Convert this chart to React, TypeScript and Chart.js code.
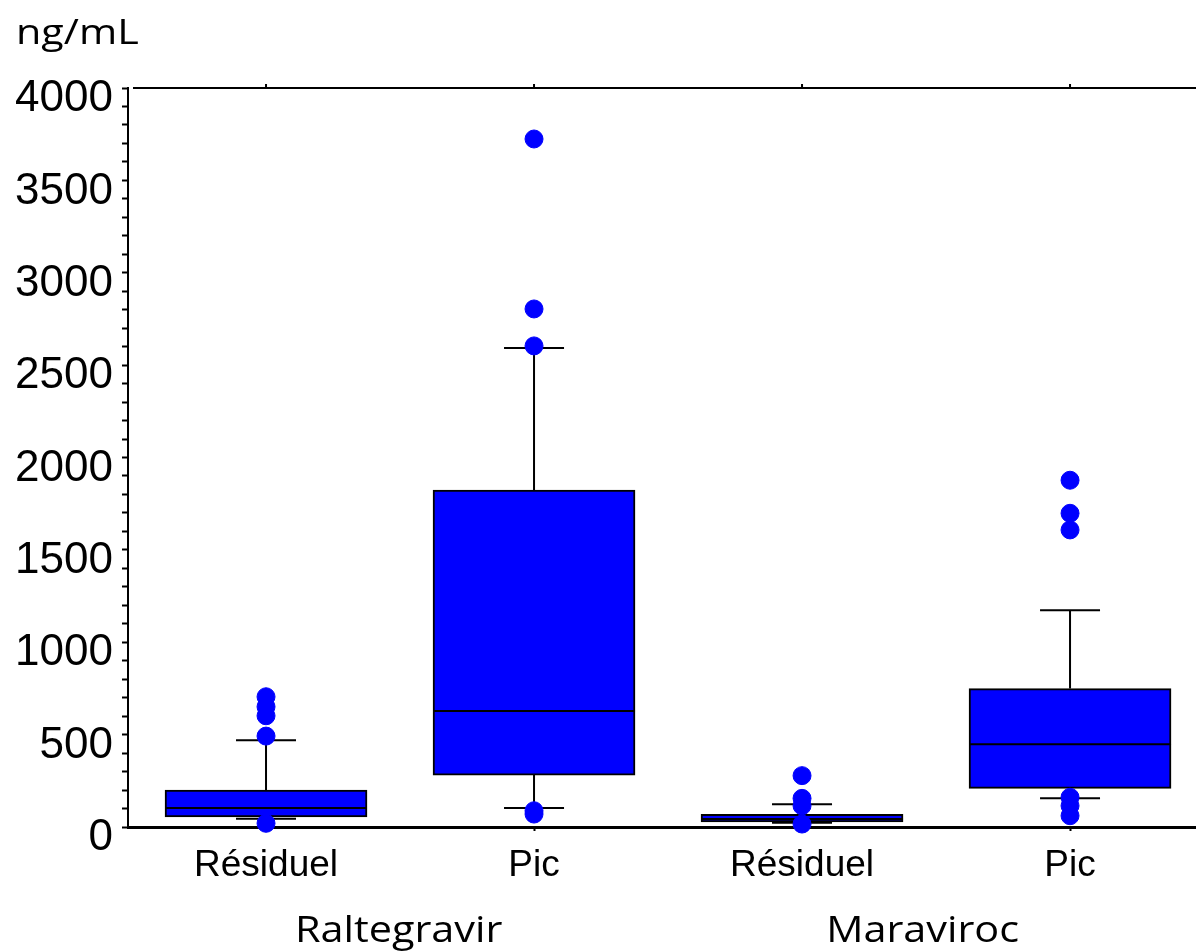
import { useEffect, useRef } from 'react';
import { Chart, registerables } from 'chart.js';
Chart.register(...registerables);

const categories = ['Résiduel', 'Pic', 'Résiduel', 'Pic'];
const groups = ['Raltegravir', 'Maraviroc'];
const groupCenters = [1.495, 3.45];
const unitLabel = 'ng/mL';

const q1 = [54, 281, 27, 209];
const median = [103, 628, 43, 448];
const q3 = [200, 1824, 69, 749];
const whiskerLow = [45, 103, 23, 155];
const whiskerHigh = [469, 2593, 123, 1173];

const outliers1 = [705, 651, 602, 492, 20];
const outliers2 = [3724, 2804, 2604, 88, 70];
const outliers3 = [278, 155, 115, 16];
const outliers4 = [1877, 1698, 1608, 161, 115, 61];
const outliers = [outliers1, outliers2, outliers3, outliers4];

const yTickValues = [0, 500, 1000, 1500, 2000, 2500, 3000, 3500, 4000];

const BOX_WIDTH = 202;
const CAP_WIDTH = 60;
const BLUE = '#0000ff';

export default function App() {
  const ref = useRef<HTMLCanvasElement>(null);

  useEffect(() => {
    if (!ref.current) return;
    const boxData = categories.map((_, i) => ({ x: i + 1, y: [q1[i], q3[i]] }));
    const outlierData = outliers.flatMap((arr, i) => arr.map((v) => ({ x: i + 1, y: v })));

    const stretchText = (
      ctx: CanvasRenderingContext2D,
      text: string,
      x: number,
      baseline: number,
      font: string,
      sx: number,
      align: CanvasTextAlign
    ) => {
      ctx.save();
      ctx.font = font;
      ctx.fillStyle = '#000';
      ctx.textBaseline = 'alphabetic';
      ctx.textAlign = align;
      ctx.translate(x, baseline);
      ctx.scale(sx, 1);
      ctx.fillText(text, 0, 0);
      ctx.restore();
    };

    const plugin = {
      id: 'boxExtras',
      beforeDatasetsDraw(chart: any) {
        const { ctx, scales } = chart;
        const xs = scales.x;
        const ys = scales.y;
        ctx.save();
        ctx.strokeStyle = '#000';
        ctx.lineWidth = 2;
        categories.forEach((_, i) => {
          const px = xs.getPixelForValue(i + 1);
          ctx.beginPath();
          ctx.moveTo(px, ys.getPixelForValue(q3[i]));
          ctx.lineTo(px, ys.getPixelForValue(whiskerHigh[i]));
          ctx.moveTo(px, ys.getPixelForValue(q1[i]));
          ctx.lineTo(px, ys.getPixelForValue(whiskerLow[i]));
          ctx.moveTo(px - CAP_WIDTH / 2, ys.getPixelForValue(whiskerHigh[i]));
          ctx.lineTo(px + CAP_WIDTH / 2, ys.getPixelForValue(whiskerHigh[i]));
          ctx.moveTo(px - CAP_WIDTH / 2, ys.getPixelForValue(whiskerLow[i]));
          ctx.lineTo(px + CAP_WIDTH / 2, ys.getPixelForValue(whiskerLow[i]));
          ctx.stroke();
        });
        ctx.restore();
      },
      afterDatasetDraw(chart: any, args: any) {
        if (args.index !== 1) return;
        const { ctx, scales } = chart;
        ctx.save();
        ctx.strokeStyle = '#000';
        ctx.lineWidth = 2;
        categories.forEach((_, i) => {
          const px = scales.x.getPixelForValue(i + 1);
          const py = scales.y.getPixelForValue(median[i]);
          ctx.beginPath();
          ctx.moveTo(px - BOX_WIDTH / 2, py);
          ctx.lineTo(px + BOX_WIDTH / 2, py);
          ctx.stroke();
        });
        ctx.restore();
      },
      afterDraw(chart: any) {
        const { ctx, chartArea, scales } = chart;
        ctx.save();
        ctx.strokeStyle = '#000';
        ctx.lineWidth = 2;
        ctx.beginPath();
        ctx.moveTo(chartArea.left + 5, chartArea.top);
        ctx.lineTo(chartArea.right, chartArea.top);
        categories.forEach((_, i) => {
          const px = scales.x.getPixelForValue(i + 1);
          ctx.moveTo(px, chartArea.top);
          ctx.lineTo(px, chartArea.top - 4);
        });
        ctx.stroke();
        ctx.restore();

        groups.forEach((g, i) => {
          stretchText(ctx, g, scales.x.getPixelForValue(groupCenters[i]), 942, '36px "Open Sans"', 1.15, 'center');
        });
        stretchText(ctx, unitLabel, 16, 44, '35px "Open Sans"', 1.18, 'left');
      },
    };

    const chart = new Chart(ref.current, {
      type: 'bar',
      data: {
        datasets: [
          {
            type: 'scatter',
            data: outlierData,
            backgroundColor: BLUE,
            borderColor: BLUE,
            pointRadius: 9,
            pointHoverRadius: 9,
            clip: false,
            order: 0,
          } as any,
          {
            type: 'bar',
            data: boxData,
            backgroundColor: BLUE,
            borderColor: '#000',
            borderWidth: 2,
            borderSkipped: false,
            barThickness: BOX_WIDTH,
            order: 1,
          } as any,
        ],
      },
      options: {
        responsive: false,
        animation: false,
        layout: { autoPadding: false, padding: { left: 0, top: 88, right: 0, bottom: 0 } },
        plugins: { legend: { display: false }, tooltip: { enabled: false } },
        scales: {
          x: {
            type: 'linear',
            min: 0.485,
            max: 4.47,
            offset: false,
            afterBuildTicks: (s: any) => {
              s.ticks = categories.map((_, i) => ({ value: i + 1 }));
            },
            ticks: {
              autoSkip: false,
              maxRotation: 0,
              callback: (v: any) => categories[Math.round(v) - 1] ?? '',
              font: { family: '"Liberation Sans", Arial, sans-serif', size: 37 },
              color: '#000',
              padding: 13,
            },
            grid: { drawOnChartArea: false, tickLength: 4, color: '#000', tickWidth: 2, offset: false },
            border: { color: '#000', width: 3 },
            afterFit: (s: any) => {
              s.height = 124;
            },
          },
          y: {
            min: 0,
            max: 4000,
            ticks: {
              stepSize: 100,
              autoSkip: false,
              callback: (v: any) => (yTickValues.includes(Math.round(v)) ? String(Math.round(v)) : ''),
              font: { family: '"Liberation Sans", Arial, sans-serif', size: 44 },
              color: '#000',
              padding: 9,
              labelOffset: 11,
            },
            grid: { drawOnChartArea: false, tickLength: 6, color: '#000', tickWidth: 2 },
            border: { color: '#000', width: 2 },
            afterFit: (s: any) => {
              s.width = 128;
            },
          },
        },
      } as any,
      plugins: [plugin],
    });
    return () => chart.destroy();
  }, []);

  return (
    <div style={{ position: 'fixed', left: 0, top: 0, width: 1196, height: 951, background: '#fff' }}>
      <canvas ref={ref} width={1196} height={951} />
    </div>
  );
}
